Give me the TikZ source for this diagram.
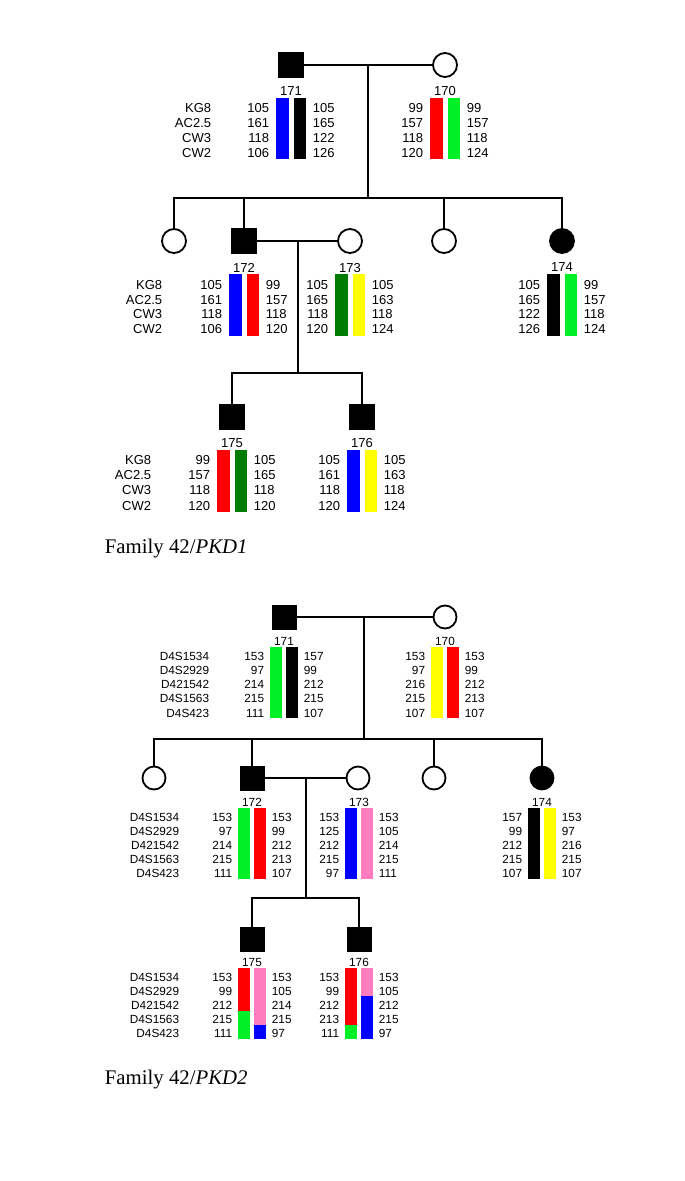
\documentclass[tikz,border=0pt]{standalone}
\usepackage{fontspec}
\setmainfont{Liberation Serif}
\setsansfont{Liberation Sans}
\definecolor{cblue}{RGB}{0,0,255}
\definecolor{cred}{RGB}{255,0,0}
\definecolor{cgreen}{RGB}{0,240,40}
\definecolor{cdgreen}{RGB}{0,125,0}
\definecolor{cyellow}{RGB}{255,255,0}
\definecolor{cpink}{RGB}{255,125,190}
\newcommand\hapbars[7]{%
  \fill[#6] (#1-#5,#2) rectangle (#1-#4,#3);
  \fill[#7] (#1+#4,#2) rectangle (#1+#5,#3);}
\newcommand\hapnums[6]{%
  \foreach \v [count=\i from 0] in {#5} \node[numL] (#1L\i) at (#2-\numoff,#3+\i*#4) {\v};
  \foreach \v [count=\i from 0] in {#6} \node[numR] (#1R\i) at (#2+\numoff,#3+\i*#4) {\v};}
\newcommand\markers[5]{%
  \foreach \v [count=\i from 0] in {#5} \node[numL] (#1M\i) at (#2,#3+\i*#4) {\v};}
\begin{document}
\begin{tikzpicture}[x=1pt,y=-1pt,
  line width=1.8pt,
  male/.style={draw, fill=black, minimum size=25pt, inner sep=0pt, line width=1pt},
  female/.style={circle, draw, fill=white, minimum size=24pt, inner sep=0pt, line width=1.8pt},
  afemale/.style={female, fill=black},
  numL/.style={anchor=east, inner sep=0pt},
  numR/.style={anchor=west, inner sep=0pt},
  idlab/.style={inner sep=0pt},
  capt/.style={anchor=west, inner sep=0pt, font=\fontsize{20.8}{20.8}\selectfont}]
\useasboundingbox (0,0) rectangle (685,1181);

% ================= Top pedigree (PKD1) =================
\begin{scope}[font=\sffamily\fontsize{13}{13}\selectfont]
\def\numoff{21}
\node[male] (a171) at (291,65) {};
\node[female] (a170) at (445,65) {};
\coordinate (am1) at (368,65);
\coordinate (as1) at (368,198);
\draw (a171) -- (a170);
\draw (am1) -- (as1);
\node[female] (ac1) at (174,241) {};
\node[male] (a172) at (244,241) {};
\node[female] (ac3) at (444,241) {};
\node[afemale] (a174) at (562,241) {};
\node[female] (a173) at (350,241) {};
\draw (ac1.north) -- (ac1.north |- as1) -- (a174.north |- as1) -- (a174.north);
\draw (a172.north) -- (a172.north |- as1);
\draw (ac3.north) -- (ac3.north |- as1);
\draw (a172) -- (a173);
\coordinate (am2) at (298,241);
\coordinate (as2) at (298,373);
\draw (am2) -- (as2);
\node[male] (a175) at (232,417) {};
\node[male] (a176) at (362,417) {};
\draw (a175.north) -- (a175.north |- as2) -- (a176.north |- as2) -- (a176.north);

% labels
\node[idlab] (la171) at (291,91) {171};
\node[idlab] (la170) at (445,91) {170};
\node[idlab] (la172) at (244,268) {172};
\node[idlab] (la173) at (350,268) {173};
\node[idlab] (la174) at (562,267) {174};
\node[idlab] (la175) at (232,443) {175};
\node[idlab] (la176) at (362,443) {176};

% bars
\hapbars{291}{98}{159}{2.5}{15}{cblue}{black}
\hapbars{445}{98}{159}{2.5}{15}{cred}{cgreen}
\hapbars{244}{274}{336}{2.5}{15}{cblue}{cred}
\hapbars{350}{274}{336}{2.5}{15}{cdgreen}{cyellow}
\hapbars{562}{274}{336}{2.5}{15}{black}{cgreen}
\hapbars{232}{450}{512}{2.5}{15}{cred}{cdgreen}
\hapbars{362}{450}{512}{2.5}{15}{cblue}{cyellow}

% numbers
\hapnums{n171}{291}{108}{14.9}{105,161,118,106}{105,165,122,126}
\hapnums{n170}{445}{108}{14.9}{99,157,118,120}{99,157,118,124}
\hapnums{n172}{244}{285}{14.6}{105,161,118,106}{99,157,118,120}
\hapnums{n173}{350}{285}{14.6}{105,165,118,120}{105,163,118,124}
\hapnums{n174}{562}{285}{14.6}{105,165,122,126}{99,157,118,124}
\hapnums{n175}{232}{460}{15.2}{99,157,118,120}{105,165,118,120}
\hapnums{n176}{362}{460}{15.2}{105,161,118,120}{105,163,118,124}
\markers{ma1}{212}{108}{14.9}{KG8,AC2.5,CW3,CW2}
\markers{ma2}{163}{285}{14.6}{KG8,AC2.5,CW3,CW2}
\markers{ma3}{152}{460}{15.2}{KG8,AC2.5,CW3,CW2}
\end{scope}
\node[capt] (cap1) at (104,549) {Family 42/\textit{PKD1}};

% ================= Bottom pedigree (PKD2) =================
\begin{scope}[font=\sffamily\fontsize{11.8}{11.8}\selectfont,
  male/.style={draw, fill=black, minimum size=24pt, inner sep=0pt, line width=1pt},
  female/.style={circle, draw, fill=white, minimum size=23pt, inner sep=0pt, line width=1.8pt}]
\def\numoff{19}
\node[male] (b171) at (284,617) {};
\node[female] (b170) at (445,617) {};
\coordinate (bm1) at (364,617);
\coordinate (bs1) at (364,739);
\draw (b171) -- (b170);
\draw (bm1) -- (bs1);
\node[female] (bc1) at (154,778) {};
\node[male] (b172) at (252,778) {};
\node[female] (bc3) at (434,778) {};
\node[afemale] (b174) at (542,778) {};
\node[female] (b173) at (358,778) {};
\draw (bc1.north) -- (bc1.north |- bs1) -- (b174.north |- bs1) -- (b174.north);
\draw (b172.north) -- (b172.north |- bs1);
\draw (bc3.north) -- (bc3.north |- bs1);
\draw (b172) -- (b173);
\coordinate (bm2) at (306,778);
\coordinate (bs2) at (306,898);
\draw (bm2) -- (bs2);
\node[male] (b175) at (252,939) {};
\node[male] (b176) at (359,939) {};
\draw (b175.north) -- (b175.north |- bs2) -- (b176.north |- bs2) -- (b176.north);

\node[idlab] (lb171) at (284,641) {171};
\node[idlab] (lb170) at (445,641) {170};
\node[idlab] (lb172) at (252,802) {172};
\node[idlab] (lb173) at (359,802) {173};
\node[idlab] (lb174) at (542,802) {174};
\node[idlab] (lb175) at (252,962) {175};
\node[idlab] (lb176) at (359,962) {176};

\hapbars{284}{647}{718}{2}{14}{cgreen}{black}
\hapbars{445}{647}{718}{2}{14}{cyellow}{cred}
\hapbars{252}{808}{879}{2}{14}{cgreen}{cred}
\hapbars{359}{808}{879}{2}{14}{cblue}{cpink}
\hapbars{542}{808}{879}{2}{14}{black}{cyellow}
% 175 recombinant
\fill[cred] (252-14,968) rectangle (252-2,1010.6);
\fill[cgreen] (252-14,1010.6) rectangle (252-2,1039);
\fill[cpink] (252+2,968) rectangle (252+14,1024.8);
\fill[cblue] (252+2,1024.8) rectangle (252+14,1039);
% 176 recombinant
\fill[cred] (359-14,968) rectangle (359-2,1024.8);
\fill[cgreen] (359-14,1024.8) rectangle (359-2,1039);
\fill[cpink] (359+2,968) rectangle (359+14,996.4);
\fill[cblue] (359+2,996.4) rectangle (359+14,1039);

\hapnums{m171}{284}{656}{14.3}{153,97,214,215,111}{157,99,212,215,107}
\hapnums{m170}{445}{656}{14.3}{153,97,216,215,107}{153,99,212,213,107}
\hapnums{m172}{252}{817}{14.1}{153,97,214,215,111}{153,99,212,213,107}
\hapnums{m173}{359}{817}{14.1}{153,125,212,215,97}{153,105,214,215,111}
\hapnums{m174}{542}{817}{14.1}{157,99,212,215,107}{153,97,216,215,107}
\hapnums{m175}{252}{977}{14.1}{153,99,212,215,111}{153,105,214,215,97}
\hapnums{m176}{359}{977}{14.1}{153,99,212,213,111}{153,105,212,215,97}
\markers{mb1}{210}{656}{14.3}{D4S1534,D4S2929,D421542,D4S1563,D4S423}
\markers{mb2}{180}{817}{14.1}{D4S1534,D4S2929,D421542,D4S1563,D4S423}
\markers{mb3}{180}{977}{14.1}{D4S1534,D4S2929,D421542,D4S1563,D4S423}
\end{scope}
\node[capt] (cap2) at (104,1080) {Family 42/\textit{PKD2}};
\end{tikzpicture}
\end{document}
